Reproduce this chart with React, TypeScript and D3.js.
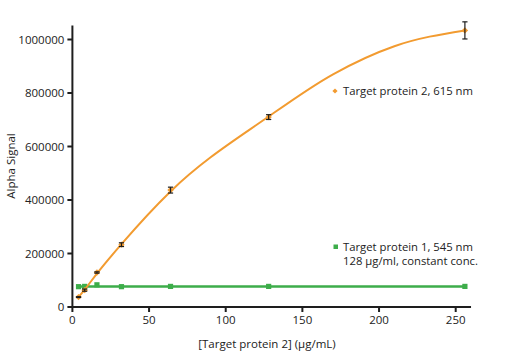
import React from "react";
import * as d3 from "d3";

const concentrations = [4, 8, 16, 32, 64, 128, 256];
const protein2Signal = [37000, 63000, 129000, 233000, 437000, 710000, 1034000];
const protein2Error = [1500, 4000, 2500, 7000, 11000, 9000, 32000];
const protein1Signal = [76000, 77000, 83000, 76000, 77000, 77000, 77000];
const protein2FitX = [4, 8, 16, 32, 64, 128, 170, 210, 256];
const protein2FitY = [37000, 65000, 125000, 235000, 432000, 712000, 870000, 975000, 1034000];
const protein1FitX = [4, 256];
const protein1FitY = [76500, 76500];
const xTicks = [0, 50, 100, 150, 200, 250];
const yTicks = [0, 200000, 400000, 600000, 800000, 1000000];
const legend2 = "Target protein 2, 615 nm";
const legend1a = "Target protein 1, 545 nm";
const legend1b = "128 μg/ml, constant conc.";
const xTitle = "[Target protein 2] (μg/mL)";
const yTitle = "Alpha Signal";

const W = 512, H = 355;
const ORANGE = "#F29B30";
const GREEN = "#3DAD4A";
const AXIS = "#1e1e1e";
const FONT = "'Open Sans', sans-serif";

export default function App() {
  const x = d3.scaleLinear().domain([0, 250]).range([72.4, 455.7]);
  const y = d3.scaleLinear().domain([0, 1000000]).range([307, 39.5]);
  const xMax = 260;
  const yMax = 1052000;

  const orangeLine = d3.line<number>()
    .x((_, i) => x(protein2FitX[i]))
    .y((d) => y(d))
    .curve(d3.curveMonotoneX)(protein2FitY) || "";
  const greenLine = d3.line<number>()
    .x((_, i) => x(protein1FitX[i]))
    .y((d) => y(d))(protein1FitY) || "";

  const diamond = (cx: number, cy: number, r: number) =>
    `M${cx},${cy - r}L${cx + r},${cy}L${cx},${cy + r}L${cx - r},${cy}Z`;

  return (
    <svg width={W} height={H} style={{ position: "fixed", left: 0, top: 0, background: "#fff" }} fontFamily={FONT}>
      <path d={greenLine} stroke={GREEN} strokeWidth={2.5} fill="none" />
      {protein1Signal.map((v, i) => (
        <rect key={"g" + i} x={x(concentrations[i]) - 2.6} y={y(v) - 2.6} width={5.2} height={5.2} fill={GREEN} />
      ))}
      <path d={orangeLine} stroke={ORANGE} strokeWidth={2} fill="none" />
      {protein2Signal.map((v, i) => {
        const cx = x(concentrations[i]);
        const e = protein2Error[i];
        return (
          <g key={"o" + i}>
            <path d={diamond(cx, y(v), 3.2)} fill={ORANGE} />
            <line x1={cx} x2={cx} y1={y(v + e)} y2={y(v - e)} stroke={AXIS} strokeWidth={1.2} />
            <line x1={cx - 2.6} x2={cx + 2.6} y1={y(v + e)} y2={y(v + e)} stroke={AXIS} strokeWidth={1.2} />
            <line x1={cx - 2.6} x2={cx + 2.6} y1={y(v - e)} y2={y(v - e)} stroke={AXIS} strokeWidth={1.2} />
          </g>
        );
      })}
      <line x1={x(0)} x2={x(0)} y1={y(0) + 1} y2={y(yMax)} stroke={AXIS} strokeWidth={2} />
      <line x1={x(0) - 1} x2={x(xMax)} y1={y(0)} y2={y(0)} stroke={AXIS} strokeWidth={2} />
      {yTicks.map((t) => (
        <g key={"yt" + t}>
          <line x1={x(0) - 5} x2={x(0)} y1={y(t)} y2={y(t)} stroke={AXIS} strokeWidth={2} />
          <text x={x(0) - 8} y={y(t)} dy="0.35em" textAnchor="end" fontSize={11.5} fill="#222">{t}</text>
        </g>
      ))}
      {xTicks.map((t) => (
        <g key={"xt" + t}>
          <line x1={x(t)} x2={x(t)} y1={y(0)} y2={y(0) + 5} stroke={AXIS} strokeWidth={2} />
          <text x={x(t)} y={324} textAnchor="middle" fontSize={11.5} fill="#222">{t}</text>
        </g>
      ))}
      <text x={267} y={348} textAnchor="middle" fontSize={11.5} fill="#222">{xTitle}</text>
      <text transform={`translate(15,166) rotate(-90)`} textAnchor="middle" fontSize={11.5} fill="#222">{yTitle}</text>
      <path d={diamond(335, 91, 2.6)} fill={ORANGE} />
      <text x={343} y={95} fontSize={11.3} fill="#222">{legend2}</text>
      <rect x={333.5} y={244.5} width={4.5} height={4.5} fill={GREEN} />
      <text x={343} y={251} fontSize={11.3} fill="#222">{legend1a}</text>
      <text x={343} y={265} fontSize={11.3} fill="#222">{legend1b}</text>
    </svg>
  );
}
